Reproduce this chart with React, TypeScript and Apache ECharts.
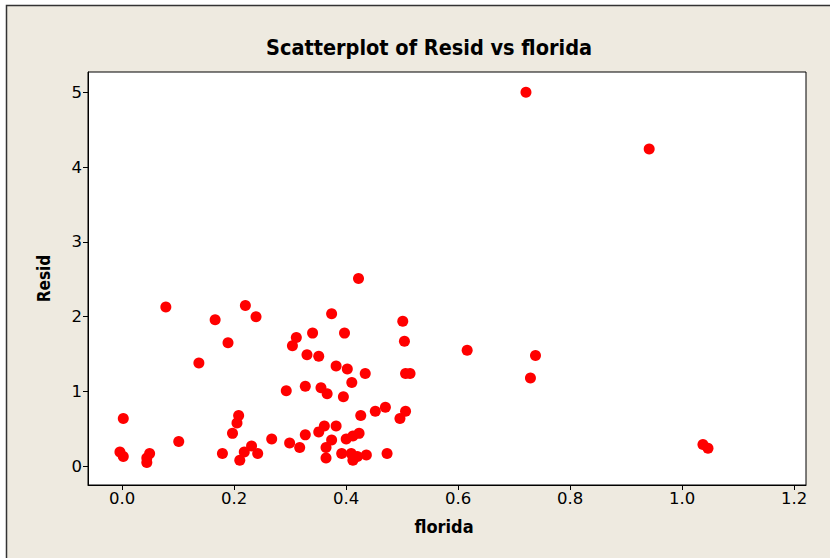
import React, { useEffect, useRef } from "react";
import * as echarts from "echarts";

const floridaValues: number[] = [
  0.721, 0.941, 0.422, 0.078, 0.220, 0.166, 0.239, 0.374, 0.501, 0.189,
  0.137, 0.311, 0.340, 0.397, 0.304, 0.504, 0.330, 0.351, 0.382, 0.402,
  0.434, 0.506, 0.514, 0.410, 0.293, 0.327, 0.355, 0.366, 0.395, 0.470,
  0.452, 0.506, 0.496, 0.426, 0.361, 0.382, 0.351, 0.327, 0.423, 0.412,
  0.400, 0.374, 0.299, 0.317, 0.364, 0.392, 0.409, 0.420, 0.436, 0.473,
  0.364, 0.412, 0.616, 0.738, 0.729, 1.037, 1.046, 0.002, 0.208, 0.205,
  0.197, 0.101, 0.267, -0.004, 0.002, 0.049, 0.044, 0.044, 0.179, 0.231,
  0.218, 0.242, 0.210,
];

const residValues: number[] = [
  5.0, 4.24, 2.51, 2.13, 2.15, 1.96, 2.0, 2.04, 1.94, 1.65,
  1.38, 1.72, 1.78, 1.78, 1.61, 1.67, 1.49, 1.47, 1.34, 1.30,
  1.24, 1.24, 1.24, 1.12, 1.01, 1.07, 1.05, 0.97, 0.93, 0.79,
  0.735, 0.735, 0.64, 0.68, 0.54, 0.54, 0.46, 0.42, 0.44, 0.405,
  0.365, 0.35, 0.31, 0.25, 0.25, 0.17, 0.17, 0.13, 0.15, 0.17,
  0.11, 0.08, 1.55, 1.48, 1.18, 0.29, 0.24, 0.64, 0.68, 0.58,
  0.44, 0.33, 0.365, 0.19, 0.13, 0.17, 0.11, 0.05, 0.17, 0.27,
  0.19, 0.17, 0.08,
];

const xTicks: number[] = [0, 0.2, 0.4, 0.6, 0.8, 1.0, 1.2];
const yTicks: number[] = [0, 1, 2, 3, 4, 5];

const titleText = "Scatterplot of Resid vs florida";
const xName = "florida";
const yName = "Resid";

export default function App() {
  const ref = useRef<HTMLDivElement>(null);

  useEffect(() => {
    if (!ref.current) return;
    const chart = echarts.init(ref.current, null, { renderer: "svg" });
    const condensed = "'DejaVu Sans Condensed', 'DejaVu Sans', sans-serif";
    const plain = "'DejaVu Sans', sans-serif";
    const data = floridaValues.map((x, i) => [x, residValues[i]]);
    chart.setOption({
      animation: false,
      backgroundColor: "#ffffff",
      graphic: [
        {
          type: "rect",
          z: -100,
          shape: { x: 6.5, y: 5.5, width: 840, height: 570 },
          style: { fill: "#EEEAE0", stroke: "#333333", lineWidth: 1.5 },
        },
      ],
      title: {
        text: titleText,
        left: 261,
        top: 31,
        textStyle: {
          fontFamily: condensed,
          fontWeight: "bold",
          fontSize: 21.5,
          color: "#000",
        },
      },
      grid: {
        left: 88,
        top: 72,
        right: 24,
        bottom: 73,
        show: true,
        backgroundColor: "#ffffff",
        borderColor: "#000000",
        borderWidth: 1,
        containLabel: false,
      },
      xAxis: {
        type: "value",
        min: -0.061,
        max: 1.221,
        name: xName,
        nameLocation: "middle",
        nameGap: 32,
        nameTextStyle: {
          fontFamily: condensed,
          fontWeight: "bold",
          fontSize: 18,
          color: "#000",
          padding: [0, 6, 0, 0],
        },
        splitLine: { show: false },
        axisLine: { show: true, onZero: false, lineStyle: { color: "#000", width: 1 } },
        axisTick: {
          show: true,
          length: 5,
          inside: false,
          customValues: xTicks,
          lineStyle: { color: "#000" },
        },
        axisLabel: {
          customValues: xTicks,
          margin: 5,
          fontFamily: plain,
          fontSize: 16.5,
          color: "#000",
          formatter: (v: number) => v.toFixed(1),
        },
      },
      yAxis: {
        type: "value",
        min: -0.25,
        max: 5.27,
        name: yName,
        nameLocation: "middle",
        nameGap: 36,
        nameTextStyle: {
          fontFamily: condensed,
          fontWeight: "bold",
          fontSize: 17,
          color: "#000",
        },
        splitLine: { show: false },
        axisLine: { show: true, onZero: false, lineStyle: { color: "#000", width: 1 } },
        axisTick: {
          show: true,
          length: 5,
          inside: false,
          customValues: yTicks,
          lineStyle: { color: "#000" },
        },
        axisLabel: {
          customValues: yTicks,
          margin: 6,
          fontFamily: plain,
          fontSize: 16.5,
          color: "#000",
          formatter: (v: number) => String(v),
        },
      },
      series: [
        {
          type: "scatter",
          data,
          symbol: "circle",
          symbolSize: 11,
          itemStyle: { color: "#FF0000", opacity: 1 },
        },
      ],
    });
    return () => chart.dispose();
  }, []);

  return (
    <div
      ref={ref}
      style={{ position: "fixed", left: 0, top: 0, width: 830, height: 558 }}
    />
  );
}
